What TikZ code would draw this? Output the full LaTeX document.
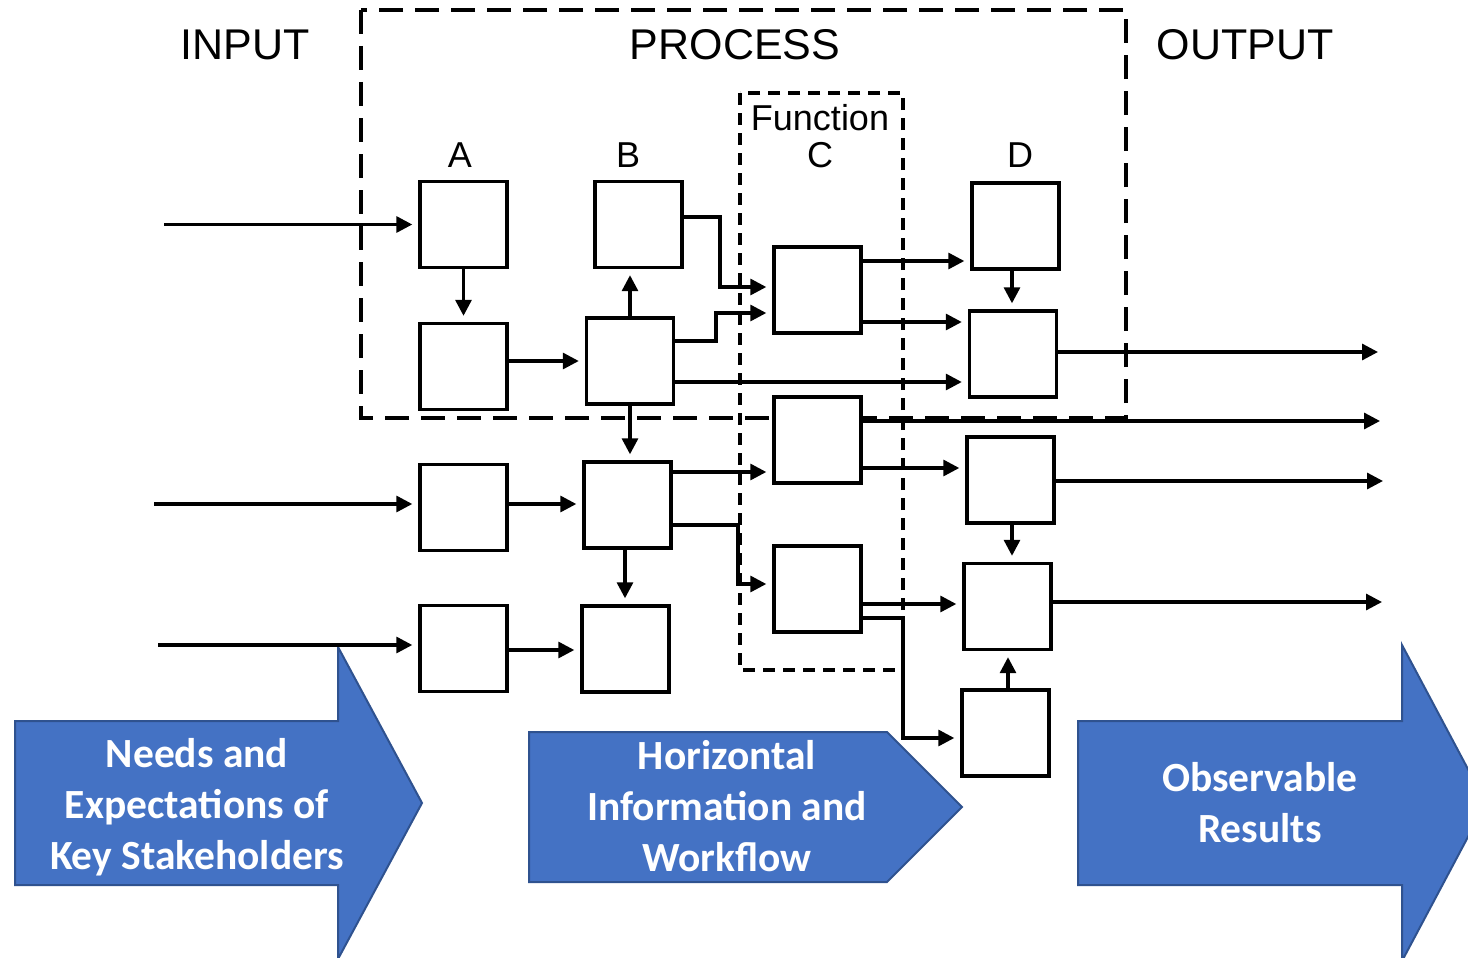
\documentclass[tikz,border=0pt]{standalone}
\usepackage{fontspec}
\setmainfont{Liberation Sans}
\newfontfamily\calibrifont{Carlito}
\usetikzlibrary{arrows.meta}
\definecolor{bluefill}{HTML}{4472C4}
\definecolor{blueedge}{HTML}{2F528F}
\begin{document}
\begin{tikzpicture}[x=1pt,y=-1pt,
  box/.style={draw, line width=3.4pt, fill=white, minimum width=87pt, minimum height=86pt, inner sep=0pt},
  conn/.style={line width=3.2pt, -{Triangle[length=16pt,width=16pt]}, shorten >=6pt},
  procbox/.style={line width=3.2pt, dash pattern=on 24pt off 12pt},
  funcbox/.style={line width=3.2pt, dash pattern=on 12pt off 8pt},
  bigarrow/.style={fill=bluefill, draw=blueedge, line width=2pt, line join=miter},
  biglabel/.style={text=white, align=center, font=\calibrifont\bfseries\fontsize{41.5}{51}\selectfont},
  head/.style={font=\fontsize{43}{50}\selectfont, anchor=base},
  col/.style={font=\fontsize{36}{42}\selectfont, anchor=base}
]
\useasboundingbox (0,0) rectangle (1468,958);
\clip (0,0) rectangle (1468,958);

% big blue arrows
\path[bigarrow] (15,721) -- (338,721) -- (338,647) -- (422,803) -- (338,959) -- (338,885) -- (15,885) -- cycle;
\path[bigarrow] (529,732) -- (887,732) -- (962,807) -- (887,882) -- (529,882) -- cycle;
\path[bigarrow] (1078,721) -- (1402,721) -- (1402,645) -- (1486,803) -- (1402,961) -- (1402,885) -- (1078,885) -- cycle;
\node[biglabel] (t1) at (197,807) {Needs and\\Expectations of\\Key Stakeholders};
\node[biglabel] (t2) at (727,806) {Horizontal\\Information and\\Workflow};
\node[biglabel] (t3) at (1260,803) {Observable\\Results};

% dashed frames
\draw[procbox] (361,10) rectangle (1126,418);
\draw[funcbox] (740,93) rectangle (903,670);

% headings
\node[head] (hin) at (245,60) {INPUT};
\node[head] (hpr) at (735,60) {PROCESS};
\node[head] (hout) at (1245,60) {OUTPUT};
\node[col] (lA) at (460,167) {A};
\node[col] (lB) at (628,167) {B};
\node[col] (lF) at (820,130) {Function};
\node[col] (lC) at (820,167) {C};
\node[col] (lD) at (1020,167) {D};

% box positions
\coordinate (cA1) at (463.5,224.5);
\coordinate (cA2) at (463.5,366.5);
\coordinate (cA3) at (463.5,507.5);
\coordinate (cA4) at (463.5,648.5);
\coordinate (cB1) at (638.5,224.5);
\coordinate (cB2) at (630,361);
\coordinate (cB3) at (627.5,505);
\coordinate (cB4) at (625.5,649);
\coordinate (cC1) at (817.5,290);
\coordinate (cC2) at (817.5,440);
\coordinate (cC3) at (817.5,589);
\coordinate (cD1) at (1015.5,226);
\coordinate (cD2) at (1013,354);
\coordinate (cD3) at (1010.5,480);
\coordinate (cD4) at (1007.5,606.5);
\coordinate (cD5) at (1005.5,733);

% named nodes used by the connectors
\foreach \n in {A1,A2,A3,A4,B1,B2,B3,B4,C1,C2,C3,D1,D2,D3,D4,D5}{
  \node[box, draw=none, fill=none] (\n) at (c\n) {};
}

% free ends
\coordinate (i1) at (164,224.5);
\coordinate (i2) at (154,504);
\coordinate (i3) at (158,645);
\coordinate (o1) at (1384,352);
\coordinate (o2) at (1386,421);
\coordinate (o3) at (1389,481);
\coordinate (o4) at (1388,602);

% connectors
\draw[conn] (i1) -- (A1.west |- i1);
\draw[conn] (i2) -- (A3.west |- i2);
\draw[conn] (i3) -- (A4.west |- i3);
\draw[conn] (A1.south) -- (A2.north);
\draw[conn] (A2.east |- 0,361) -- (B2.west |- 0,361);
\draw[conn] (A3.east |- 0,504) -- (B3.west |- 0,504);
\draw[conn] (A4.east |- 0,650) -- (B4.west |- 0,650);
\draw[conn] (B2.north) -- (B1.south -| B2.north);
\draw[conn] (B2.south) -- (B3.north -| B2.south);
\draw[conn] (B3.south -| 625,0) -- (B4.north -| 625,0);
\draw[conn] (B1.east |- 0,217) -| (720,287) -- (C1.west |- 0,287);
\draw[conn] (B2.east |- 0,341) -| (716,313) -- (C1.west |- 0,313);
\draw[conn] (B2.east |- 0,382) -- (D2.west |- 0,382);
\draw[conn] (C1.east |- 0,261) -- (D1.west |- 0,261);
\draw[conn] (C1.east |- 0,322) -- (D2.west |- 0,322);
\draw[conn] (D1.south -| 1012,0) -- (D2.north -| 1012,0);
\draw[conn] (D2.east |- o1) -- (o1);
\draw[conn] (C2.east |- o2) -- (o2);
\draw[conn] (B3.east |- 0,472) -- (C2.west |- 0,472);
\draw[conn] (B3.east |- 0,525) -| (738,584) -- (C3.west |- 0,584);
\draw[conn] (C2.east |- 0,468) -- (D3.west |- 0,468);
\draw[conn] (C3.east |- 0,604) -- (D4.west |- 0,604);
\draw[conn] (C3.east |- 0,618) -| (903,738) -- (D5.west |- 0,738);
\draw[conn] (D3.south -| 1012,0) -- (D4.north -| 1012,0);
\draw[conn] (D5.north -| 1008,0) -- (D4.south -| 1008,0);
\draw[conn] (D3.east |- o3) -- (o3);
\draw[conn] (D4.east |- o4) -- (o4);

% visible boxes on top
\foreach \n in {A1,A2,A3,A4,B1,B2,B3,B4,C1,C2,C3,D1,D2,D3,D4,D5}{
  \node[box] at (c\n) {};
}
\end{tikzpicture}
\end{document}
